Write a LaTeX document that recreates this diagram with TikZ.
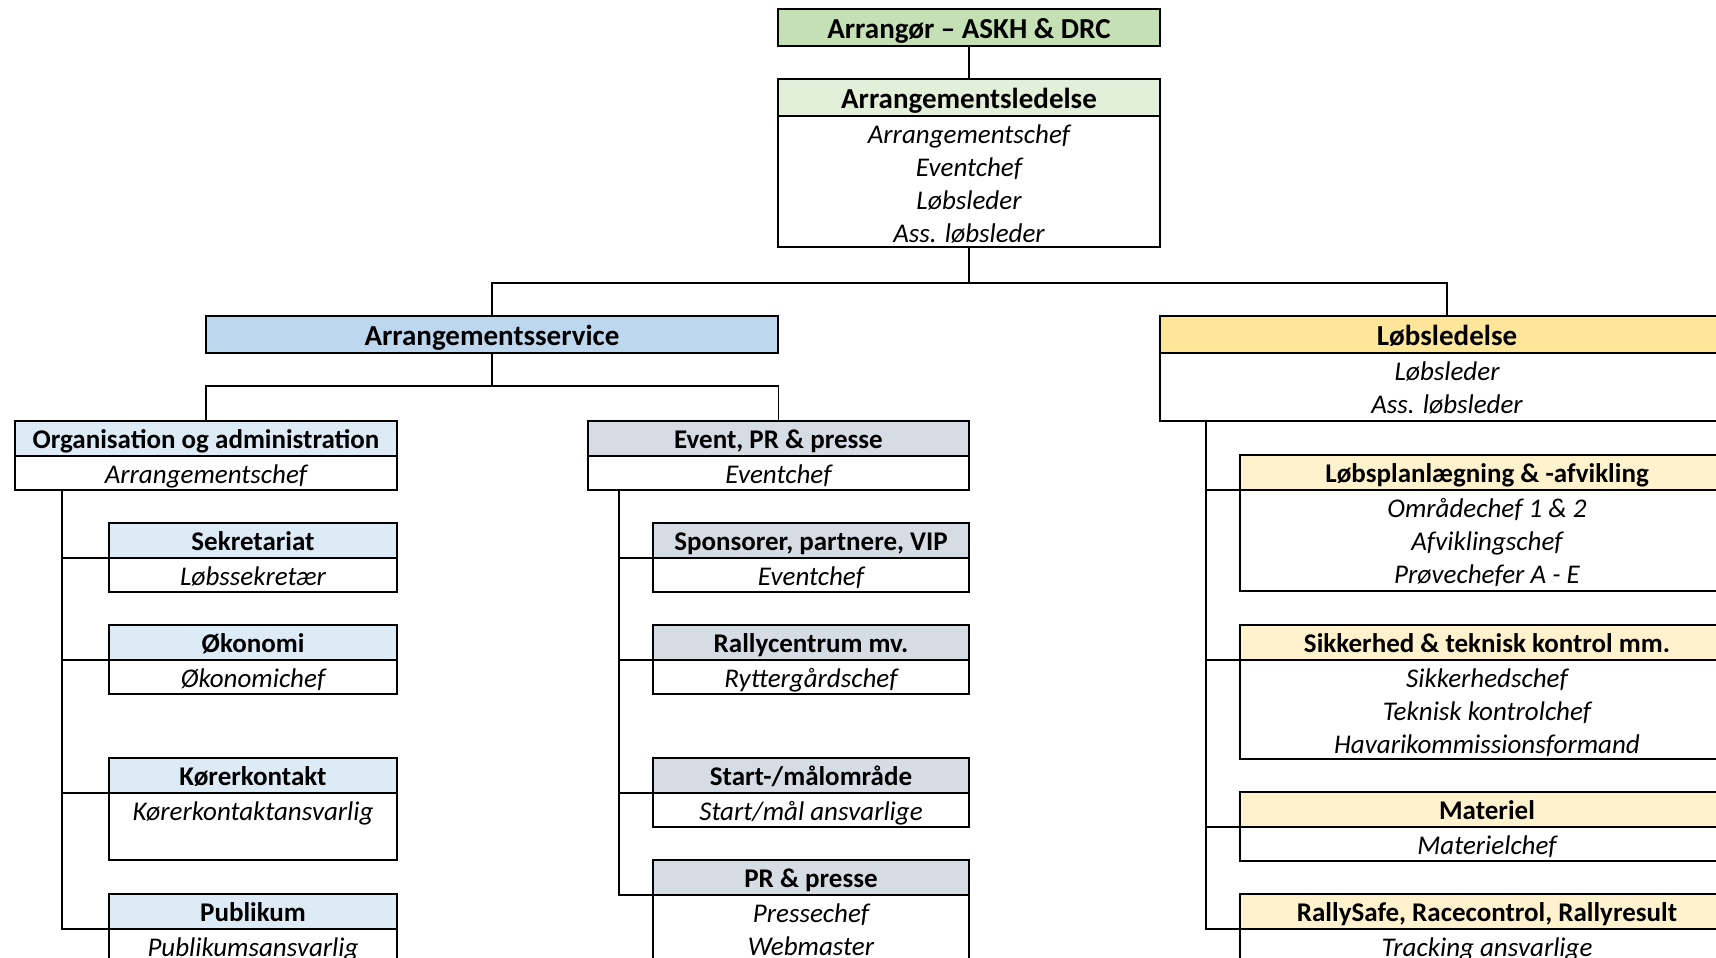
\documentclass[tikz,border=0pt]{standalone}
\usepackage{fontspec}
\setmainfont{Carlito}
\usetikzlibrary{positioning}

\definecolor{topgreen}{HTML}{C5E0B4}
\definecolor{lightgreen}{HTML}{E2F0D9}
\definecolor{midblue}{HTML}{BDD7EE}
\definecolor{lightblue}{HTML}{DDEBF7}
\definecolor{bluegray}{HTML}{D6DCE4}
\definecolor{gold}{HTML}{FFE699}
\definecolor{lightgold}{HTML}{FFF2CC}

% lines of a box, top aligned: width, height, text
\newcommand{\jobcell}[3]{\parbox[c][#2][t]{#1}{\centering\rule{0pt}{27pt}#3}}

\begin{document}
\begin{tikzpicture}[x=1pt, y=-1pt, line width=1.6pt,
  head/.style={draw, minimum width=#1, minimum height=35pt, inner sep=0pt, outer sep=0pt,
    anchor=north, font=\fontsize{27}{33}\selectfont\bfseries,
    execute at begin node={\rule[-6.5pt]{0pt}{33pt}}},
  big/.style={minimum height=37pt, font=\fontsize{29}{35}\selectfont\bfseries,
    execute at begin node={\rule[-5pt]{0pt}{33pt}}},
  duty/.style={draw, fill=white, inner sep=0pt, outer sep=0pt,
    font=\fontsize{27}{33}\selectfont\itshape}]

        \useasboundingbox (0,0) rectangle (1716,958);
        \clip (0,0) rectangle (1716,958);

        % top of the chart
        \node[head=382pt, big, fill=topgreen] (arr) at (969,9) {Arrangør – ASKH \& DRC};
        \node[head=382pt, big, fill=lightgreen] (aled) at (969,79) {Arrangementsledelse};
        \node[duty, below=0pt of aled] (aled-b)
            {\jobcell{382pt}{131pt}{Arrangementschef\\Eventchef\\Løbsleder\\Ass. løbsleder}};

        \node[head=572pt, big, fill=midblue] (aserv) at (492,316) {Arrangementsservice};
        \node[head=574pt, big, fill=gold] (lled) at (1447,316) {Løbsledelse};
        \node[duty, below=0pt of lled] (lled-b) {\jobcell{574pt}{68pt}{Løbsleder\\Ass. løbsleder}};

        % Arrangementsservice
        \node[head=382pt, fill=lightblue] (org) at (206,421) {Organisation og administration};
        \node[duty, below=0pt of org] (org-b) {\jobcell{382pt}{34pt}{Arrangementschef}};
        \node[head=381pt, fill=bluegray] (event) at (778.5,421) {Event, PR \& presse};
        \node[duty, below=0pt of event] (event-b) {\jobcell{381pt}{34pt}{Eventchef}};

        \node[head=288pt, fill=lightblue] (sek) at (253,523) {Sekretariat};
        \node[duty, below=0pt of sek] (sek-b) {\jobcell{288pt}{34pt}{Løbssekretær}};
        \node[head=288pt, fill=lightblue] (oek) at (253,625) {Økonomi};
        \node[duty, below=0pt of oek] (oek-b) {\jobcell{288pt}{34pt}{Økonomichef}};
        \node[head=288pt, fill=lightblue] (koer) at (253,758) {Kørerkontakt};
        \node[duty, below=0pt of koer] (koer-b) {\jobcell{288pt}{67pt}{Kørerkontaktansvarlig}};
        \node[head=288pt, fill=lightblue] (pub) at (253,894) {Publikum};
        \node[duty, below=0pt of pub] (pub-b) {\jobcell{288pt}{34pt}{Publikumsansvarlig}};

        \node[head=316pt, fill=bluegray] (spons) at (811,523) {Sponsorer, partnere, VIP};
        \node[duty, below=0pt of spons] (spons-b) {\jobcell{316pt}{34pt}{Eventchef}};
        \node[head=316pt, fill=bluegray] (rally) at (811,625) {Rallycentrum mv.};
        \node[duty, below=0pt of rally] (rally-b) {\jobcell{316pt}{34pt}{Ryttergårdschef}};
        \node[head=316pt, fill=bluegray] (start) at (811,758) {Start-/målområde};
        \node[duty, below=0pt of start] (start-b) {\jobcell{316pt}{34pt}{Start/mål ansvarlige}};
        \node[head=316pt, fill=bluegray] (pr) at (811,860) {PR \& presse};
        \node[duty, below=0pt of pr] (pr-b) {\jobcell{316pt}{67pt}{Pressechef\\Webmaster}};

        % Løbsledelse
        \node[head=494pt, fill=lightgold] (plan) at (1487,455) {Løbsplanlægning \& -afvikling};
        \node[duty, below=0pt of plan] (plan-b)
            {\jobcell{494pt}{101pt}{Områdechef 1 \& 2\\Afviklingschef\\Prøvechefer A - E}};
        \node[head=494pt, fill=lightgold] (sik) at (1487,625) {Sikkerhed \& teknisk kontrol mm.};
        \node[duty, below=0pt of sik] (sik-b)
            {\jobcell{494pt}{99pt}{Sikkerhedschef\\Teknisk kontrolchef\\Havarikommissionsformand}};
        \node[head=494pt, fill=lightgold] (mat) at (1487,792) {Materiel};
        \node[duty, below=0pt of mat] (mat-b) {\jobcell{494pt}{34pt}{Materielchef}};
        \node[head=494pt, fill=lightgold] (rs) at (1487,894) {RallySafe, Racecontrol, Rallyresult};
        \node[duty, below=0pt of rs] (rs-b) {\jobcell{494pt}{34pt}{Tracking ansvarlige}};

        % connectors
        \coordinate (bus1) at (0,283);
        \coordinate (bus2) at (0,386);
        \coordinate (lt) at (62,0);
        \coordinate (mt) at (619,0);
        \coordinate (rt) at (1206,0);

        \draw (arr.south) -- (aled.north);
        \draw (aled-b.south) -- (aled-b.south |- bus1);
        \draw (aserv.north) |- (bus1 -| lled.north) -- (lled.north);
        \draw (aserv.south) -- (aserv.south |- bus2);
        \draw (org.north) |- (bus2 -| event.north) -- (event.north);

        \draw (lt |- org-b.south) |- (pub.south west);
        \draw (lt |- sek.south) -- (sek.south west);
        \draw (lt |- oek.south) -- (oek.south west);
        \draw (lt |- koer.south) -- (koer.south west);

        \draw (mt |- event-b.south) |- (pr.south west);
        \draw (mt |- spons.south) -- (spons.south west);
        \draw (mt |- rally.south) -- (rally.south west);
        \draw (mt |- start.south) -- (start.south west);

        \draw (rt |- lled-b.south) |- (rs.south west);
        \draw (rt |- plan.south) -- (plan.south west);
        \draw (rt |- sik.south) -- (sik.south west);
        \draw (rt |- mat.south) -- (mat.south west);

\end{tikzpicture}
\end{document}
